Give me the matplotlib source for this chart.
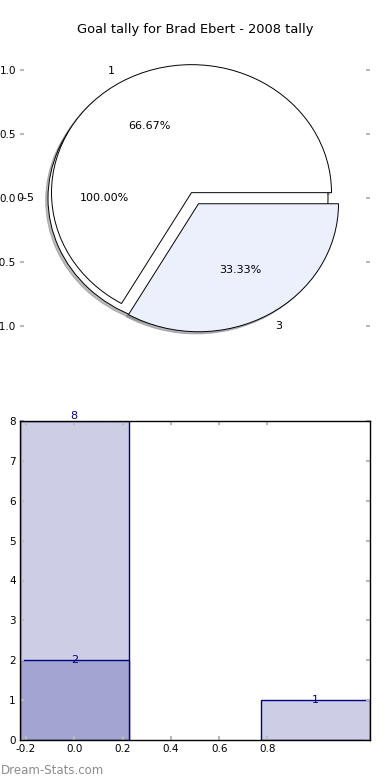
import numpy as np
import matplotlib
matplotlib.use('Agg')
import matplotlib.pyplot as plt

plt.rcParams['axes.unicode_minus'] = False
plt.rcParams['font.family'] = 'DejaVu Sans'

# Datos del grafico de pastel
outer_labels = ['0-5']
outer_values = [1]
inner_labels = ['1', '3']
inner_values = [2, 1]

# Datos del grafico de barras
bar_pos = [0, 1]
bar_totals = [8, 1]
sub_pos = [0]
sub_values = [2]

title = 'Goal tally for Brad Ebert - 2008 tally'

fig = plt.figure(figsize=(3.9, 7.8), dpi=100)

# Pastel
sombra = dict(ox=-0.012, oy=-0.012, shade=0.45, alpha=0.6)
ax1 = fig.add_axes([20 / 390, 1 - 339 / 780, 350 / 390, 281.6 / 780])
ax1.pie(outer_values, labels=outer_labels, explode=[0.05] * len(outer_values),
        colors=['white'], autopct='%.2f%%', shadow=sombra, startangle=0,
        labeldistance=1.1, pctdistance=0.6,
        wedgeprops=dict(edgecolor='black', linewidth=0.7),
        textprops=dict(fontsize=8))
ax1.pie(inner_values, labels=inner_labels, explode=[0.05] * len(inner_values),
        colors=['white', '#EBF0FC'], autopct='%.2f%%', shadow=sombra, startangle=0,
        labeldistance=1.1, pctdistance=0.6,
        wedgeprops=dict(edgecolor='black', linewidth=0.7),
        textprops=dict(fontsize=8))
ax1.set_aspect('auto')
ax1.set_xlim(-1.25, 1.25)
ax1.set_ylim(-1.1, 1.1)
ax1.set_frame_on(False)
ax1.set_xticks([])
ax1.set_yticks([-1.0, -0.5, 0.0, 0.5, 1.0])
ax1.set_yticklabels(['%.1f' % v for v in [-1.0, -0.5, 0.0, 0.5, 1.0]])
ax1.tick_params(axis='y', direction='in', length=3, width=1.5, color='#BBBBBB',
                labelsize=7.5, right=True, pad=3)

fig.text(0.5, 1 - 30 / 780, title, ha='center', va='center', fontsize=9.4)

# Barras
ax2 = fig.add_axes([20 / 390, 40 / 780, 350 / 390, 319 / 780])
ax2.bar(bar_pos, bar_totals, width=0.45, color='#CDCEE5', edgecolor='#000080', linewidth=1)
ax2.bar(sub_pos, sub_values, width=0.45, color='#A3A4D1', edgecolor='#000080', linewidth=1)
for x, h in zip(bar_pos, bar_totals):
    if h == max(bar_totals):
        ax2.text(x, h, str(h), ha='center', va='bottom', color='#000080', fontsize=8)
    else:
        ax2.text(x, h, str(h), ha='center', va='center', color='#000080', fontsize=8)
for x, h in zip(sub_pos, sub_values):
    ax2.text(x, h, str(h), ha='center', va='center', color='#000080', fontsize=8)
ax2.set_xlim(-0.225, 1.225)
ax2.set_ylim(0, 8)
ax2.set_xticks([-0.2, 0.0, 0.2, 0.4, 0.6, 0.8])
ax2.set_yticks(range(0, 9))
ax2.tick_params(direction='in', length=3, width=1.5, color='#BBBBBB', labelsize=7.5,
                top=True, right=True, pad=3)
for s in ax2.spines.values():
    s.set_linewidth(1)

fig.text(1 / 390, 1 - 770 / 780, 'Dream-Stats.com', ha='left', va='center',
         fontsize=8.5, color='#8C8C8C')

fig.savefig('out.png', dpi=100)
